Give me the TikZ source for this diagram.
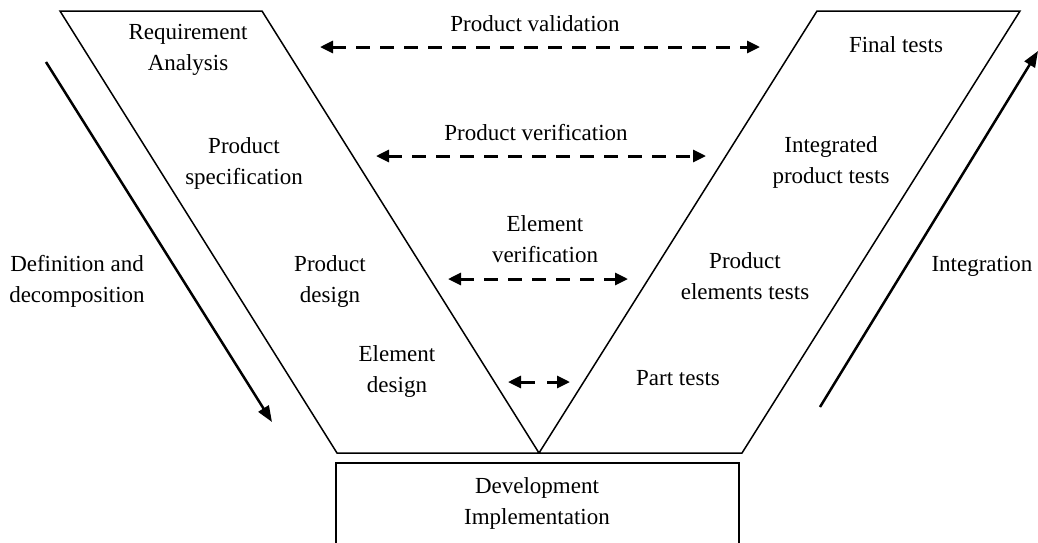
\documentclass[tikz,border=0pt]{standalone}
\usepackage{fontspec}
\setmainfont{Liberation Serif}
\usetikzlibrary{arrows.meta}
\tikzset{
  outline/.style={draw=black, line width=1.5pt, line join=miter},
  lbl/.style={align=center, inner sep=0pt, yshift=-2pt, font=\fontsize{23}{31}\selectfont},
  dasharrow/.style={line width=3pt, dash pattern=on 14pt off 10pt, {Triangle[length=13pt,width=12pt]}-{Triangle[length=13pt,width=12pt]}},
  flowarrow/.style={line width=2.5pt, -{Triangle[length=16pt,width=12pt]}}
}
\begin{document}
\begin{tikzpicture}[x=1pt, y=-1pt]
\useasboundingbox (0,0) rectangle (1038,542);
\clip (0,0) rectangle (1038,542);
% V shape
\draw[outline] (60,11) -- (262,11) -- (539,453) -- (337,453) -- cycle;
\draw[outline] (817,11) -- (1020,11) -- (742,453) -- (539,453) -- cycle;
% bottom box
\node[outline, minimum width=403pt, minimum height=100pt, anchor=north west, inner sep=0pt] (dev) at (335,462) {};
\node[lbl] (devtxt) at (537,501) {Development\\Implementation};
% labels
\node[lbl] (req) at (188,48) {Requirement\\Analysis};
\node[lbl] (pval) at (535,22) {Product validation};
\node[lbl] (final) at (896,43) {Final tests};
\node[lbl] (pspec) at (244,161) {Product\\specification};
\node[lbl] (pver) at (536,131) {Product verification};
\node[lbl] (integ) at (831,160) {Integrated\\product tests};
\node[lbl] (ever) at (545,237) {Element\\verification};
\node[lbl] (defdec) at (77,279) {Definition and\\decomposition};
\node[lbl] (pdes) at (330,279) {Product\\design};
\node[lbl] (pelt) at (745,274) {Product\\elements tests};
\node[lbl] (integration) at (982,264) {Integration};
\node[lbl] (edes) at (397,369) {Element\\design};
\node[lbl] (part) at (678,376) {Part tests};
% dashed arrows
\coordinate (v1) at (320,47); \coordinate (v2) at (760,47);
\coordinate (w1) at (376,156); \coordinate (w2) at (706,156);
\coordinate (e1) at (448,279); \coordinate (e2) at (628,279);
\coordinate (p1) at (508,382); \coordinate (p2) at (570,382);
\draw[dasharrow] (v1) -- (v2);
\draw[dasharrow] (w1) -- (w2);
\draw[dasharrow] (e1) -- (e2);
\draw[dasharrow, dash pattern=on 15pt off 12pt] (p1) -- (p2);
% flow arrows
\coordinate (d1) at (46,62); \coordinate (d2) at (272,422);
\coordinate (i1) at (820,407); \coordinate (i2) at (1038,51);
\draw[flowarrow] (d1) -- (d2);
\draw[flowarrow] (i1) -- (i2);
\end{tikzpicture}
\end{document}
